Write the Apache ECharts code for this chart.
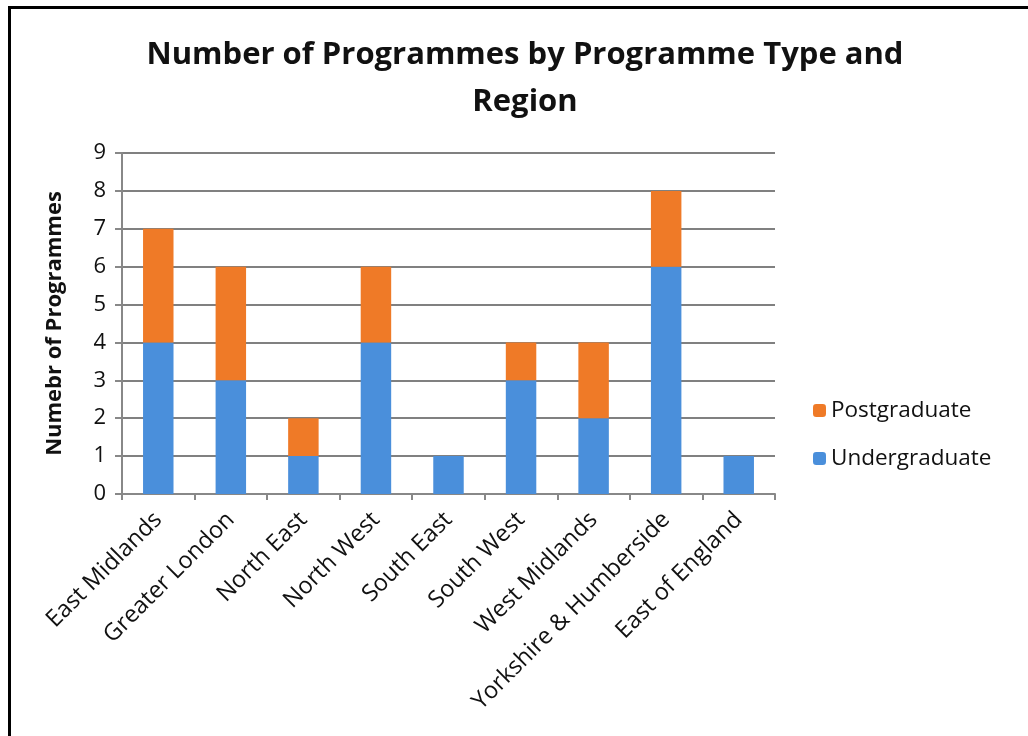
<!DOCTYPE html>
<html><head><meta charset="utf-8">
<script src="https://cdn.jsdelivr.net/npm/echarts@6/dist/echarts.min.js"></script>
<style>
html,body{margin:0;padding:0;background:#fff;}
#frame{position:absolute;left:8px;top:6px;width:1030px;height:740px;border-left:3px solid #000;border-top:3px solid #000;box-sizing:border-box;}
#c{position:absolute;left:0;top:0;width:1028px;height:736px;}
</style></head>
<body>
<div id="frame"></div>
<div id="c"></div>
<script>
const categories = ['East Midlands','Greater London','North East','North West','South East','South West','West Midlands','Yorkshire & Humberside','East of England'];
const undergraduate = [4,3,1,4,1,3,2,6,1];
const postgraduate = [3,3,1,2,0,1,2,2,0];
const yTicks = [0,1,2,3,4,5,6,7,8,9];

const chart = echarts.init(document.getElementById('c'));
const font = '"Open Sans", "Noto Sans", sans-serif';
chart.setOption({
  animation:false,
  title:{text:'Number of Programmes by Programme Type and\nRegion', left:520, top:27, textAlign:'center',
    textStyle:{fontFamily:font, fontWeight:'bold', fontSize:31, color:'#111', lineHeight:47}},
  legend:{orient:'vertical', left:808, top:394, itemGap:25, itemWidth:13, itemHeight:13,
    data:['Postgraduate','Undergraduate'],
    textStyle:{fontFamily:font, fontSize:22.5, color:'#111'}},
  grid:{left:122, right:253, top:153, bottom:242},
  xAxis:{type:'category', data:categories,
    axisLine:{lineStyle:{color:'#888', width:2}},
    axisTick:{show:true, alignWithLabel:false, length:6, lineStyle:{color:'#888', width:2}},
    axisLabel:{rotate:45, interval:0, fontFamily:font, fontSize:23.5, color:'#111', margin:22}},
  yAxis:{type:'value', min:0, max:9, interval:1,
    name:'Numebr of Programmes', nameLocation:'middle', nameGap:56,
    nameTextStyle:{fontFamily:font, fontWeight:'bold', fontSize:22, color:'#111'},
    axisLine:{show:true, lineStyle:{color:'#888', width:2}},
    axisTick:{show:true, length:7, lineStyle:{color:'#888', width:2}},
    splitLine:{lineStyle:{color:'#808080', width:2}},
    axisLabel:{fontFamily:font, fontSize:22, color:'#111', margin:16,
      formatter:v=>yTicks.includes(v)?String(v):''}},
  series:[
    {name:'Undergraduate', type:'bar', stack:'t', data:undergraduate, barWidth:'42%', itemStyle:{color:'#4a8fdb'}},
    {name:'Postgraduate', type:'bar', stack:'t', data:postgraduate, barWidth:'42%', itemStyle:{color:'#ef7a27'}}
  ]
});
</script>
</body></html>
